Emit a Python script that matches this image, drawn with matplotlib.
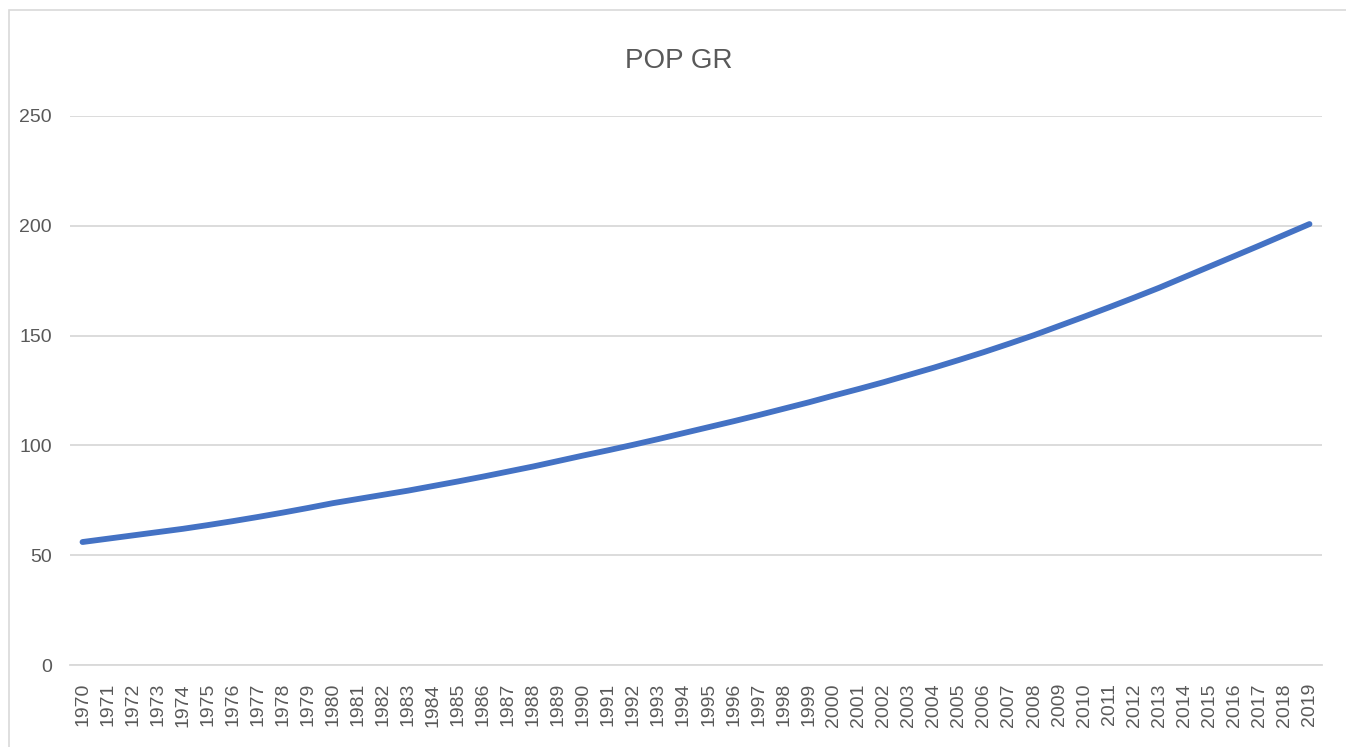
import matplotlib
matplotlib.use("Agg")
import matplotlib.pyplot as plt
from matplotlib.patches import Rectangle

years = [str(y) for y in range(1970, 2020)]
pop = [56.0, 57.5, 59.0, 60.5, 62.0, 63.7, 65.5, 67.4, 69.4, 71.5,
       73.7, 75.6, 77.5, 79.4, 81.5, 83.6, 85.8, 88.1, 90.4, 92.9,
       95.4, 97.8, 100.3, 102.9, 105.6, 108.3, 111.0, 113.8, 116.7, 119.6,
       122.7, 125.7, 128.8, 132.1, 135.4, 138.9, 142.5, 146.3, 150.2, 154.4,
       158.6, 162.9, 167.3, 171.8, 176.6, 181.4, 186.2, 191.0, 195.9, 200.8]
yticks = [0, 50, 100, 150, 200, 250]
title = "POP GR"

TEXT = "#595959"
GRID = "#D9D9D9"
narrow = ["Liberation Sans Narrow", "Liberation Sans", "DejaVu Sans"]
wide = ["Liberation Sans", "DejaVu Sans"]

W, H = 1346, 747
fig = plt.figure(figsize=(W / 100, H / 100), dpi=100)
fig.patch.set_facecolor("white")

# chart frame
fig.patches.append(Rectangle((9 / W, -0.01), 1.02 - 9 / W, 1 - 10 / H + 0.01,
                             transform=fig.transFigure, fill=False,
                             edgecolor=GRID, linewidth=1.2))

left, right = 70 / W, 1322 / W
bottom, top = (H - 665) / H, (H - 116) / H
ax = fig.add_axes([left, bottom, right - left, top - bottom])

x = list(range(len(years)))
ax.plot(x, pop, color="#4472C4", linewidth=4.2, solid_capstyle="round",
        solid_joinstyle="round", zorder=3)

ax.set_xlim(-0.5, len(years) - 0.5)
ax.set_ylim(0, 250)
ax.set_yticks(yticks)
ax.set_yticklabels([str(v) for v in yticks], fontfamily=narrow,
                   fontsize=14, color=TEXT)
ax.set_xticks(x)
ax.set_xticklabels(years, rotation=90, fontfamily=wide, fontsize=14,
                   color=TEXT)
ax.tick_params(axis="y", length=0, pad=13)
ax.tick_params(axis="x", length=0, pad=13)

ax.grid(axis="y", color=GRID, linewidth=1.3, zorder=0)
ax.set_axisbelow(True)
for s in ["top", "right", "left"]:
    ax.spines[s].set_visible(False)
ax.spines["bottom"].set_color(GRID)
ax.spines["bottom"].set_linewidth(1.3)

fig.text(0.504, 1 - 61 / H, title, ha="center", va="center",
         fontfamily=narrow, fontsize=20, color=TEXT)

fig.savefig("out.png", dpi=100, facecolor="white")
